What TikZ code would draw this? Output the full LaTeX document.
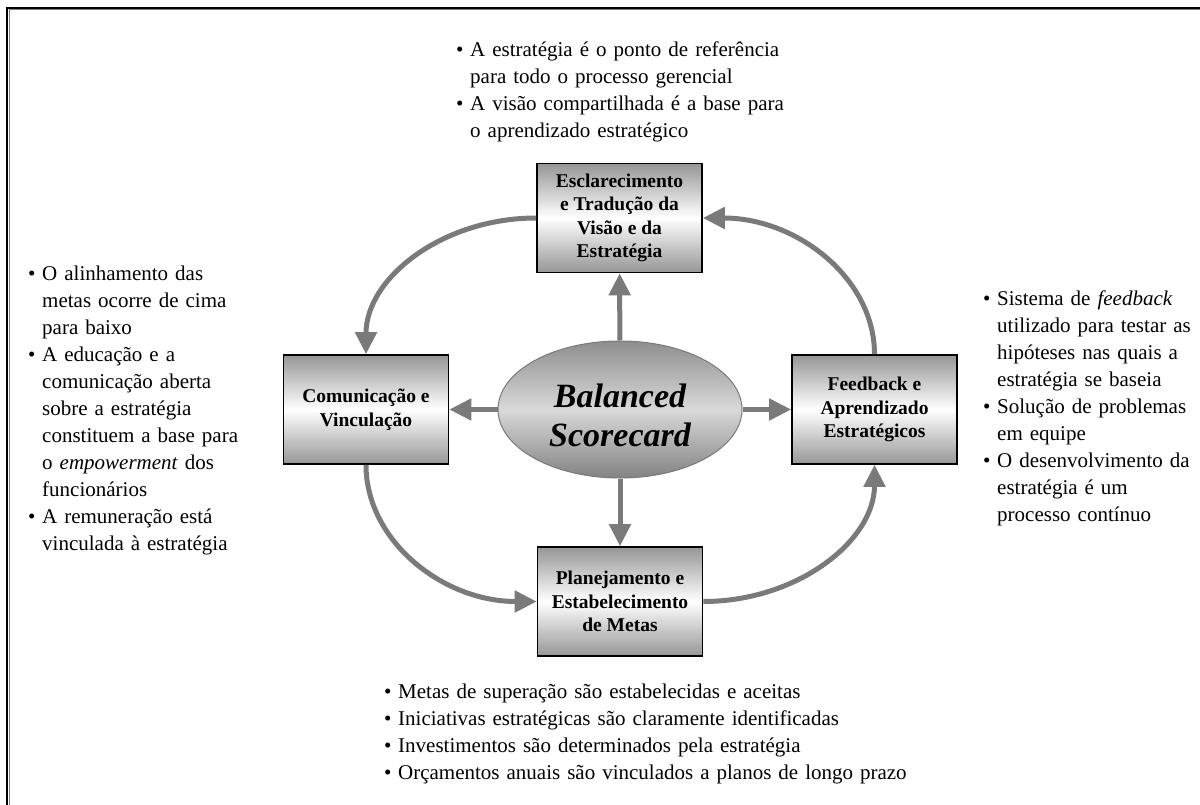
\documentclass[tikz,border=0pt]{standalone}
\usepackage{fontspec}
\setmainfont{Liberation Serif}
\usetikzlibrary{arrows.meta,shapes.geometric,shadings}

\definecolor{linkgray}{HTML}{7A7A7A}
\definecolor{boxgray}{HTML}{969696}
\definecolor{hubtop}{HTML}{8E8E8E}
\definecolor{hubmid}{HTML}{D9D9D9}
\definecolor{hubbot}{HTML}{828282}

% bullet item with hanging indent; continuation lines use \newline
\newcommand{\bitem}{\par\hangindent=14pt\hangafter=1\noindent\strut\makebox[14pt][l]{•}}

\begin{document}
\begin{tikzpicture}[x=1pt,y=-1pt,
  stagebox/.style={draw=black,line width=1.6pt,minimum width=165pt,minimum height=109pt,
    inner sep=0pt,align=center,top color=boxgray,bottom color=boxgray,middle color=white,
    font=\fontsize{19.5}{23.5}\selectfont\bfseries},
  hub/.style={ellipse,draw=linkgray,line width=1pt,minimum width=244pt,minimum height=137pt,
    inner sep=0pt,top color=hubtop,bottom color=hubbot,middle color=hubmid},
  hubtext/.style={inner sep=0pt,align=center,font=\fontsize{34}{39}\selectfont\bfseries\itshape},
  link/.style={draw=linkgray,line width=5pt,-{Triangle[width=21pt,length=22pt]}},
  notes/.style={anchor=north west,inner sep=0pt,text width=620pt,
    font=\fontsize{21}{27}\selectfont\raggedright}
]
\useasboundingbox (0,0) rectangle (1200,805);

% outer frame (runs off the right and bottom edges)
\draw[line width=1pt,gray] (1210,10) -- (9,10) -- (9,815);
\draw[line width=2pt,black] (1210,8) -- (7,8) -- (7,815);

% central ellipse and the four stages
\node[hub] (bsc) at (620,409.5) {};
\node[hubtext] (bsclabel) at (620,415) {Balanced\\Scorecard};
\node[stagebox] (top) at (619.5,218) {Esclarecimento\\e Tradução da\\Visão e da\\Estratégia};
\node[stagebox] (left) at (366,409.5) {Comunicação e\\Vinculação};
\node[stagebox] (right) at (874.5,409.5) {Feedback e\\Aprendizado\\Estratégicos};
\node[stagebox] (bottom) at (620,601.5) {Planejamento e\\Estabelecimento\\de Metas};

% radial arrows
\draw[link] (bsc) -- (top);
\draw[link] (bsc) -- (left);
\draw[link] (bsc) -- (right);
\draw[link] (bsc) -- (bottom);

% cycle arrows
\draw[link] (top.west) .. controls +(-94,0) and +(0,-76) .. (left.north);
\draw[link] (left.south) .. controls +(0,76) and +(-94,0) .. (bottom.west);
\draw[link] (bottom.east) .. controls +(94,0) and +(0,76) .. (right.south);
\draw[link] (right.north) .. controls +(0,-76) and +(94,0) .. (top.east);

% notes
\node[notes] (ntop) at (456,29) {\bitem A estratégia é o ponto de referência\newline para todo o processo gerencial
\bitem A visão compartilhada é a base para\newline o aprendizado estratégico\par};

\node[notes] (nleft) at (28,253) {\bitem O alinhamento das\newline metas ocorre de cima\newline para baixo
\bitem A educação e a\newline comunicação aberta\newline sobre a estratégia\newline constituem a base para\newline o \textit{empowerment} dos\newline funcionários
\bitem A remuneração está\newline vinculada à estratégia\par};

\node[notes] (nright) at (983,278) {\bitem Sistema de \textit{feedback}\newline utilizado para testar as\newline hipóteses nas quais a\newline estratégia se baseia
\bitem Solução de problemas\newline em equipe
\bitem O desenvolvimento da\newline estratégia é um\newline processo contínuo\par};

\node[notes] (nbottom) at (384,671) {\bitem Metas de superação são estabelecidas e aceitas
\bitem Iniciativas estratégicas são claramente identificadas
\bitem Investimentos são determinados pela estratégia
\bitem Orçamentos anuais são vinculados a planos de longo prazo\par};
\end{tikzpicture}
\end{document}
